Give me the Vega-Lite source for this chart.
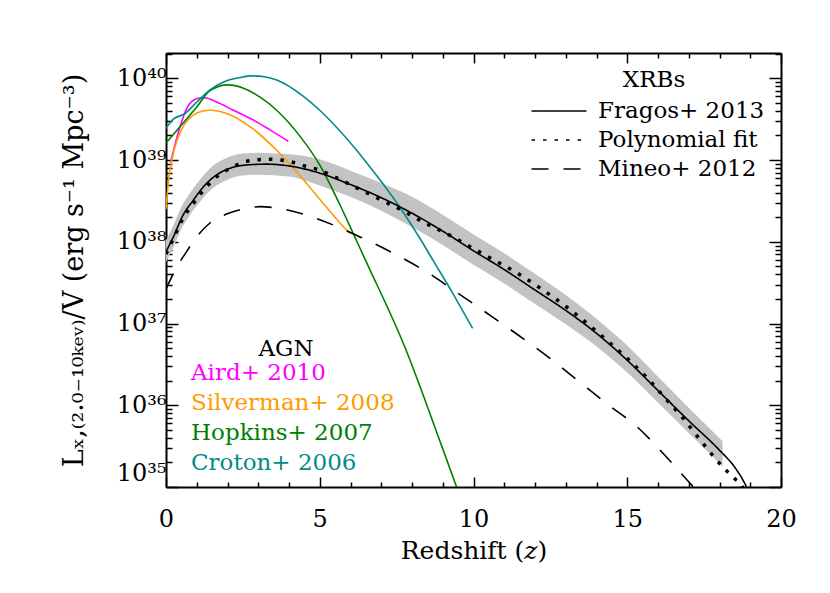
{
  "$schema": "https://vega.github.io/schema/vega-lite/v6.json",
  "width": 615,
  "height": 434,
  "autosize": {"type": "none"},
  "padding": {"left": 166, "top": 53, "right": 49, "bottom": 106},
  "background": "white",
  "config": {
    "view": {"stroke": null},
    "axis": {"grid": false, "domainColor": "black", "tickColor": "black", "labelColor": "black", "titleColor": "black", "labelFont": "DejaVu Serif", "titleFont": "DejaVu Serif", "labelFontSize": 24, "titleFontSize": 24, "titleFontWeight": "normal", "domainWidth": 2, "tickWidth": 1.5, "labelOverlap": false, "labelFlush": false, "labelBound": false},
    "legend": {"labelFont": "DejaVu Serif", "titleFont": "DejaVu Serif", "labelFontSize": 23, "titleFontSize": 23, "titleFontWeight": "normal", "labelColor": "black", "titleColor": "black", "padding": 0, "labelLimit": 400}
  },
  "datasets": {
    "band": [
      {"z": 0, "lo": 37.75, "hi": 38.02},
      {"z": 0.25, "lo": 37.94, "hi": 38.21},
      {"z": 0.5, "lo": 38.16, "hi": 38.43},
      {"z": 0.75, "lo": 38.31, "hi": 38.58},
      {"z": 1.0, "lo": 38.44, "hi": 38.71},
      {"z": 1.5, "lo": 38.65, "hi": 38.92},
      {"z": 2.0, "lo": 38.76, "hi": 39.03},
      {"z": 2.5, "lo": 38.81, "hi": 39.08},
      {"z": 3.0, "lo": 38.82, "hi": 39.09},
      {"z": 4.0, "lo": 38.80, "hi": 39.07},
      {"z": 5.0, "lo": 38.69, "hi": 39.01},
      {"z": 6.0, "lo": 38.55, "hi": 38.87},
      {"z": 7.0, "lo": 38.38, "hi": 38.72},
      {"z": 8.0, "lo": 38.18, "hi": 38.55},
      {"z": 9.0, "lo": 37.96, "hi": 38.33},
      {"z": 10.0, "lo": 37.72, "hi": 38.09},
      {"z": 11.0, "lo": 37.49, "hi": 37.86},
      {"z": 12.0, "lo": 37.24, "hi": 37.61},
      {"z": 13.0, "lo": 36.99, "hi": 37.35},
      {"z": 14.0, "lo": 36.72, "hi": 37.06},
      {"z": 15.0, "lo": 36.40, "hi": 36.73},
      {"z": 16.0, "lo": 36.03, "hi": 36.35},
      {"z": 17.0, "lo": 35.66, "hi": 35.97},
      {"z": 18.1, "lo": 35.25, "hi": 35.56}
    ],
    "agn": [
      {"source": "Aird+ 2010", "z": 0.15, "logL": 38.97},
      {"source": "Aird+ 2010", "z": 0.3, "logL": 39.2},
      {"source": "Aird+ 2010", "z": 0.46, "logL": 39.41},
      {"source": "Aird+ 2010", "z": 0.67, "logL": 39.63},
      {"source": "Aird+ 2010", "z": 0.85, "logL": 39.72},
      {"source": "Aird+ 2010", "z": 1.1, "logL": 39.76},
      {"source": "Aird+ 2010", "z": 1.3, "logL": 39.76},
      {"source": "Aird+ 2010", "z": 1.65, "logL": 39.71},
      {"source": "Aird+ 2010", "z": 2.19, "logL": 39.61},
      {"source": "Aird+ 2010", "z": 2.84, "logL": 39.49},
      {"source": "Aird+ 2010", "z": 3.38, "logL": 39.37},
      {"source": "Aird+ 2010", "z": 3.98, "logL": 39.23},
      {"source": "Silverman+ 2008", "z": 0, "logL": 38.4},
      {"source": "Silverman+ 2008", "z": 0.07, "logL": 38.7},
      {"source": "Silverman+ 2008", "z": 0.13, "logL": 38.88},
      {"source": "Silverman+ 2008", "z": 0.29, "logL": 39.16},
      {"source": "Silverman+ 2008", "z": 0.56, "logL": 39.41},
      {"source": "Silverman+ 2008", "z": 0.89, "logL": 39.55},
      {"source": "Silverman+ 2008", "z": 1.2, "logL": 39.6},
      {"source": "Silverman+ 2008", "z": 1.43, "logL": 39.61},
      {"source": "Silverman+ 2008", "z": 1.97, "logL": 39.57},
      {"source": "Silverman+ 2008", "z": 2.73, "logL": 39.41},
      {"source": "Silverman+ 2008", "z": 3.6, "logL": 39.12},
      {"source": "Silverman+ 2008", "z": 4.47, "logL": 38.76},
      {"source": "Silverman+ 2008", "z": 5.0, "logL": 38.52},
      {"source": "Silverman+ 2008", "z": 5.66, "logL": 38.23},
      {"source": "Silverman+ 2008", "z": 5.98, "logL": 38.1},
      {"source": "Hopkins+ 2007", "z": 0, "logL": 39.21},
      {"source": "Hopkins+ 2007", "z": 0.46, "logL": 39.41},
      {"source": "Hopkins+ 2007", "z": 1.0, "logL": 39.65},
      {"source": "Hopkins+ 2007", "z": 1.43, "logL": 39.85},
      {"source": "Hopkins+ 2007", "z": 2.0, "logL": 39.92},
      {"source": "Hopkins+ 2007", "z": 2.52, "logL": 39.88},
      {"source": "Hopkins+ 2007", "z": 3.06, "logL": 39.77},
      {"source": "Hopkins+ 2007", "z": 3.6, "logL": 39.61},
      {"source": "Hopkins+ 2007", "z": 4.36, "logL": 39.29},
      {"source": "Hopkins+ 2007", "z": 5.0, "logL": 38.94},
      {"source": "Hopkins+ 2007", "z": 5.66, "logL": 38.45},
      {"source": "Hopkins+ 2007", "z": 6.09, "logL": 38.1},
      {"source": "Hopkins+ 2007", "z": 6.63, "logL": 37.66},
      {"source": "Hopkins+ 2007", "z": 7.2, "logL": 37.2},
      {"source": "Hopkins+ 2007", "z": 7.77, "logL": 36.71},
      {"source": "Hopkins+ 2007", "z": 8.3, "logL": 36.19},
      {"source": "Hopkins+ 2007", "z": 8.9, "logL": 35.57},
      {"source": "Hopkins+ 2007", "z": 9.45, "logL": 35.0},
      {"source": "Hopkins+ 2007", "z": 9.6, "logL": 34.84},
      {"source": "Croton+ 2006", "z": 0, "logL": 39.39},
      {"source": "Croton+ 2006", "z": 0.24, "logL": 39.5},
      {"source": "Croton+ 2006", "z": 0.62, "logL": 39.57},
      {"source": "Croton+ 2006", "z": 1.0, "logL": 39.71},
      {"source": "Croton+ 2006", "z": 1.43, "logL": 39.86},
      {"source": "Croton+ 2006", "z": 1.97, "logL": 39.97},
      {"source": "Croton+ 2006", "z": 2.4, "logL": 40.01},
      {"source": "Croton+ 2006", "z": 2.78, "logL": 40.03},
      {"source": "Croton+ 2006", "z": 3.2, "logL": 40.02},
      {"source": "Croton+ 2006", "z": 3.6, "logL": 39.98},
      {"source": "Croton+ 2006", "z": 4.47, "logL": 39.78},
      {"source": "Croton+ 2006", "z": 5.0, "logL": 39.61},
      {"source": "Croton+ 2006", "z": 5.5, "logL": 39.42},
      {"source": "Croton+ 2006", "z": 6.09, "logL": 39.17},
      {"source": "Croton+ 2006", "z": 6.85, "logL": 38.81},
      {"source": "Croton+ 2006", "z": 7.61, "logL": 38.42},
      {"source": "Croton+ 2006", "z": 8.26, "logL": 38.04},
      {"source": "Croton+ 2006", "z": 8.69, "logL": 37.77},
      {"source": "Croton+ 2006", "z": 9.34, "logL": 37.36},
      {"source": "Croton+ 2006", "z": 9.97, "logL": 36.94}
    ],
    "xrb": [
      {"series": "Fragos+ 2013", "z": 0, "logL": 37.88},
      {"series": "Fragos+ 2013", "z": 0.24, "logL": 38.06},
      {"series": "Fragos+ 2013", "z": 0.56, "logL": 38.33},
      {"series": "Fragos+ 2013", "z": 0.89, "logL": 38.51},
      {"series": "Fragos+ 2013", "z": 1.21, "logL": 38.67},
      {"series": "Fragos+ 2013", "z": 1.65, "logL": 38.82},
      {"series": "Fragos+ 2013", "z": 2.08, "logL": 38.9},
      {"series": "Fragos+ 2013", "z": 2.62, "logL": 38.94},
      {"series": "Fragos+ 2013", "z": 3.27, "logL": 38.95},
      {"series": "Fragos+ 2013", "z": 4.14, "logL": 38.92},
      {"series": "Fragos+ 2013", "z": 5.0, "logL": 38.84},
      {"series": "Fragos+ 2013", "z": 6.0, "logL": 38.7},
      {"series": "Fragos+ 2013", "z": 7.0, "logL": 38.54},
      {"series": "Fragos+ 2013", "z": 8.0, "logL": 38.35},
      {"series": "Fragos+ 2013", "z": 9.0, "logL": 38.13},
      {"series": "Fragos+ 2013", "z": 10.0, "logL": 37.89},
      {"series": "Fragos+ 2013", "z": 11.0, "logL": 37.66},
      {"series": "Fragos+ 2013", "z": 12.0, "logL": 37.41},
      {"series": "Fragos+ 2013", "z": 13.0, "logL": 37.16},
      {"series": "Fragos+ 2013", "z": 14.0, "logL": 36.88},
      {"series": "Fragos+ 2013", "z": 15.0, "logL": 36.55},
      {"series": "Fragos+ 2013", "z": 16.0, "logL": 36.18},
      {"series": "Fragos+ 2013", "z": 17.0, "logL": 35.81},
      {"series": "Fragos+ 2013", "z": 18.0, "logL": 35.45},
      {"series": "Fragos+ 2013", "z": 18.5, "logL": 35.24},
      {"series": "Fragos+ 2013", "z": 18.88, "logL": 35.0},
      {"series": "Fragos+ 2013", "z": 19.0, "logL": 34.9},
      {"series": "Polynomial fit", "z": 0, "logL": 37.85},
      {"series": "Polynomial fit", "z": 0.24, "logL": 38.04},
      {"series": "Polynomial fit", "z": 0.62, "logL": 38.33},
      {"series": "Polynomial fit", "z": 0.87, "logL": 38.46},
      {"series": "Polynomial fit", "z": 1.13, "logL": 38.59},
      {"series": "Polynomial fit", "z": 1.41, "logL": 38.71},
      {"series": "Polynomial fit", "z": 1.73, "logL": 38.82},
      {"series": "Polynomial fit", "z": 2.1, "logL": 38.9},
      {"series": "Polynomial fit", "z": 2.49, "logL": 38.97},
      {"series": "Polynomial fit", "z": 2.89, "logL": 39.0},
      {"series": "Polynomial fit", "z": 3.31, "logL": 39.01},
      {"series": "Polynomial fit", "z": 3.73, "logL": 39.0},
      {"series": "Polynomial fit", "z": 4.15, "logL": 38.97},
      {"series": "Polynomial fit", "z": 4.57, "logL": 38.92},
      {"series": "Polynomial fit", "z": 4.98, "logL": 38.88},
      {"series": "Polynomial fit", "z": 5.39, "logL": 38.81},
      {"series": "Polynomial fit", "z": 6.15, "logL": 38.67},
      {"series": "Polynomial fit", "z": 6.9, "logL": 38.53},
      {"series": "Polynomial fit", "z": 7.66, "logL": 38.39},
      {"series": "Polynomial fit", "z": 8.42, "logL": 38.23},
      {"series": "Polynomial fit", "z": 9.18, "logL": 38.09},
      {"series": "Polynomial fit", "z": 9.94, "logL": 37.93},
      {"series": "Polynomial fit", "z": 10.65, "logL": 37.78},
      {"series": "Polynomial fit", "z": 11.41, "logL": 37.62},
      {"series": "Polynomial fit", "z": 12.3, "logL": 37.4},
      {"series": "Polynomial fit", "z": 13.14, "logL": 37.17},
      {"series": "Polynomial fit", "z": 13.79, "logL": 36.97},
      {"series": "Polynomial fit", "z": 14.44, "logL": 36.76},
      {"series": "Polynomial fit", "z": 15.09, "logL": 36.54},
      {"series": "Polynomial fit", "z": 15.68, "logL": 36.32},
      {"series": "Polynomial fit", "z": 16.25, "logL": 36.08},
      {"series": "Polynomial fit", "z": 16.82, "logL": 35.84},
      {"series": "Polynomial fit", "z": 17.34, "logL": 35.59},
      {"series": "Polynomial fit", "z": 17.88, "logL": 35.34},
      {"series": "Polynomial fit", "z": 18.2, "logL": 35.21},
      {"series": "Polynomial fit", "z": 18.5, "logL": 35.1},
      {"series": "Polynomial fit", "z": 18.75, "logL": 35.0},
      {"series": "Polynomial fit", "z": 18.85, "logL": 34.9},
      {"series": "Mineo+ 2012", "z": 0, "logL": 37.42},
      {"series": "Mineo+ 2012", "z": 0.35, "logL": 37.69},
      {"series": "Mineo+ 2012", "z": 0.67, "logL": 37.88},
      {"series": "Mineo+ 2012", "z": 1.0, "logL": 38.06},
      {"series": "Mineo+ 2012", "z": 1.43, "logL": 38.23},
      {"series": "Mineo+ 2012", "z": 1.97, "logL": 38.34},
      {"series": "Mineo+ 2012", "z": 2.62, "logL": 38.41},
      {"series": "Mineo+ 2012", "z": 3.06, "logL": 38.43},
      {"series": "Mineo+ 2012", "z": 3.81, "logL": 38.4},
      {"series": "Mineo+ 2012", "z": 4.36, "logL": 38.35},
      {"series": "Mineo+ 2012", "z": 5.0, "logL": 38.27},
      {"series": "Mineo+ 2012", "z": 6.31, "logL": 38.06},
      {"series": "Mineo+ 2012", "z": 7.39, "logL": 37.86},
      {"series": "Mineo+ 2012", "z": 8.48, "logL": 37.63},
      {"series": "Mineo+ 2012", "z": 9.5, "logL": 37.37},
      {"series": "Mineo+ 2012", "z": 10.54, "logL": 37.1},
      {"series": "Mineo+ 2012", "z": 11.45, "logL": 36.86},
      {"series": "Mineo+ 2012", "z": 12.5, "logL": 36.57},
      {"series": "Mineo+ 2012", "z": 13.4, "logL": 36.3},
      {"series": "Mineo+ 2012", "z": 14.4, "logL": 36.0},
      {"series": "Mineo+ 2012", "z": 15.31, "logL": 35.74},
      {"series": "Mineo+ 2012", "z": 16.17, "logL": 35.41},
      {"series": "Mineo+ 2012", "z": 17.15, "logL": 35.0},
      {"series": "Mineo+ 2012", "z": 17.4, "logL": 34.9}
    ]
  },
  "layer": [
    {
      "data": {"name": "band"},
      "mark": {"type": "area", "color": "#c3c3c3", "clip": true, "interpolate": "monotone"},
      "encoding": {
        "x": {"field": "z", "type": "quantitative", "scale": {"domain": [0, 20], "nice": false, "zero": false},
          "axis": {"orient": "bottom", "title": "Redshift (𝑧)", "titleFontSize": 25, "values": [0,1,2,3,4,5,6,7,8,9,10,11,12,13,14,15,16,17,18,19,20],
            "labelExpr": "datum.value % 5 == 0 ? datum.label : ''",
            "tickSize": {"condition": {"test": "datum.value % 5 == 0", "value": -10}, "value": -5},
            "labelPadding": 30, "titlePadding": 2}},
        "y": {"field": "lo", "type": "quantitative", "scale": {"domain": [35, 40.31], "nice": false, "zero": false},
          "axis": {"orient": "left", "title": "Lₓ,₍₂.₀₋₁₀ₖₑᵥ₎/V (erg s⁻¹ Mpc⁻³)", "titleFontSize": 27,
            "values": [35,35.30103,35.47712,35.60206,35.69897,35.77815,35.8451,35.90309,35.95424,36,36.30103,36.47712,36.60206,36.69897,36.77815,36.8451,36.90309,36.95424,37,37.30103,37.47712,37.60206,37.69897,37.77815,37.8451,37.90309,37.95424,38,38.30103,38.47712,38.60206,38.69897,38.77815,38.8451,38.90309,38.95424,39,39.30103,39.47712,39.60206,39.69897,39.77815,39.8451,39.90309,39.95424,40,40.30103],
            "labelExpr": "datum.value % 1 == 0 ? ['10³⁵','10³⁶','10³⁷','10³⁸','10³⁹','10⁴⁰'][datum.value - 35] : ''",
            "tickSize": {"condition": {"test": "datum.value % 1 == 0", "value": -12}, "value": -6},
            "labelOffset": {"condition": {"test": "datum.value == 35", "value": -14}, "value": 0},
            "labelPadding": 12, "titlePadding": 28}},
        "y2": {"field": "hi"}
      }
    },
    {
      "data": {"name": "agn"},
      "mark": {"type": "line", "strokeWidth": 1.6, "clip": true, "interpolate": "monotone"},
      "encoding": {
        "x": {"field": "z", "type": "quantitative", "scale": {"domain": [0, 20], "nice": false, "zero": false}, "axis": null},
        "y": {"field": "logL", "type": "quantitative", "scale": {"domain": [35, 40.31], "nice": false, "zero": false}, "axis": null},
        "color": {"field": "source", "type": "nominal",
          "scale": {"domain": ["Aird+ 2010", "Silverman+ 2008", "Hopkins+ 2007", "Croton+ 2006"], "range": ["#ff00ff", "#ff9a00", "#008000", "#008b8b"]},
          "legend": {"orient": "bottom-left", "title": "AGN", "offset": 12, "titleAnchor": "middle", "symbolSize": 0, "symbolStrokeWidth": 0, "symbolOpacity": 0, "labelOffset": -10, "rowPadding": 6, "titlePadding": 0,
            "encode": {"labels": {"update": {"fill": {"scale": "color", "field": "value"}}}}}
        }
      }
    },
    {
      "data": {"name": "xrb"},
      "transform": [{"filter": "datum.series != 'Polynomial fit'"}],
      "mark": {"type": "line", "strokeWidth": 1.6, "color": "black", "clip": true, "interpolate": "monotone"},
      "encoding": {
        "x": {"field": "z", "type": "quantitative", "scale": {"domain": [0, 20], "nice": false, "zero": false},
          "axis": {"orient": "top", "title": null, "labels": false, "values": [0,1,2,3,4,5,6,7,8,9,10,11,12,13,14,15,16,17,18,19,20],
            "tickSize": {"condition": {"test": "datum.value % 5 == 0", "value": -10}, "value": -5}}},
        "y": {"field": "logL", "type": "quantitative", "scale": {"domain": [35, 40.31], "nice": false, "zero": false},
          "axis": {"orient": "right", "title": null, "labels": false,
            "values": [35,35.30103,35.47712,35.60206,35.69897,35.77815,35.8451,35.90309,35.95424,36,36.30103,36.47712,36.60206,36.69897,36.77815,36.8451,36.90309,36.95424,37,37.30103,37.47712,37.60206,37.69897,37.77815,37.8451,37.90309,37.95424,38,38.30103,38.47712,38.60206,38.69897,38.77815,38.8451,38.90309,38.95424,39,39.30103,39.47712,39.60206,39.69897,39.77815,39.8451,39.90309,39.95424,40,40.30103],
            "tickSize": {"condition": {"test": "datum.value % 1 == 0", "value": -12}, "value": -6}}},
        "strokeDash": {"field": "series", "type": "nominal",
          "scale": {"domain": ["Fragos+ 2013", "Polynomial fit", "Mineo+ 2012"], "range": [[1, 0], [3.5, 8], [17, 15]]},
          "legend": {"orient": "top-right", "title": "XRBs", "offset": 16, "titleAnchor": "middle", "symbolType": "M-2,0H2", "symbolSize": 756, "symbolStrokeWidth": 1.6, "symbolStrokeColor": "black", "labelOffset": 24, "rowPadding": 2, "titlePadding": 4}
        }
      }
    },
    {
      "data": {"name": "xrb"},
      "transform": [{"filter": "datum.series == 'Polynomial fit'"}],
      "mark": {"type": "line", "strokeWidth": 3.5, "strokeCap": "butt", "color": "black", "clip": true, "interpolate": "monotone"},
      "encoding": {
        "x": {"field": "z", "type": "quantitative", "scale": {"domain": [0, 20], "nice": false, "zero": false}, "axis": null},
        "y": {"field": "logL", "type": "quantitative", "scale": {"domain": [35, 40.31], "nice": false, "zero": false}, "axis": null},
        "strokeDash": {"field": "series", "type": "nominal",
          "scale": {"domain": ["Fragos+ 2013", "Polynomial fit", "Mineo+ 2012"], "range": [[1, 0], [3.5, 8], [17, 15]]}}
      }
    }
  ],
  "resolve": {"axis": {"x": "independent", "y": "independent"}}
}
